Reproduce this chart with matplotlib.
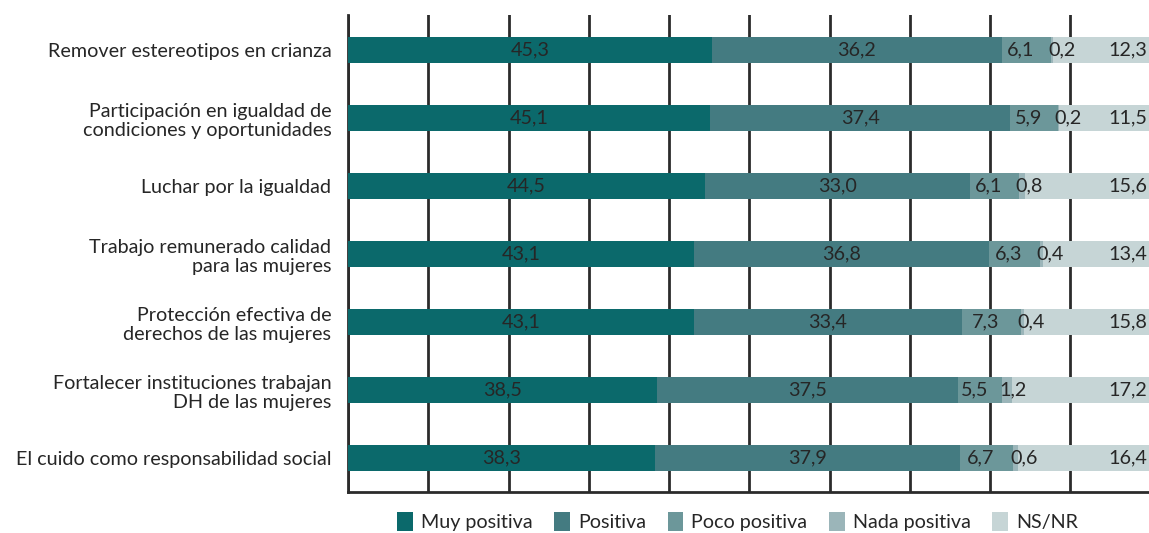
import matplotlib.pyplot as plt

plt.rcParams["font.family"] = ["Lato", "DejaVu Sans"]

categories = [
    "Remover estereotipos en crianza",
    "Participación en igualdad de\ncondiciones y oportunidades",
    "Luchar por la igualdad",
    "Trabajo remunerado calidad\npara las mujeres",
    "Protección efectiva de\nderechos de las mujeres",
    "Fortalecer instituciones trabajan\nDH de las mujeres",
    "El cuido como responsabilidad social",
]
series_names = ["Muy positiva", "Positiva", "Poco positiva", "Nada positiva", "NS/NR"]
muy_positiva = [45.3, 45.1, 44.5, 43.1, 43.1, 38.5, 38.3]
positiva = [36.2, 37.4, 33.0, 36.8, 33.4, 37.5, 37.9]
poco_positiva = [6.1, 5.9, 6.1, 6.3, 7.3, 5.5, 6.7]
nada_positiva = [0.2, 0.2, 0.8, 0.4, 0.4, 1.2, 0.6]
ns_nr = [12.3, 11.5, 15.6, 13.4, 15.8, 17.2, 16.4]

colors = ["#0b696b", "#447b81", "#6c979a", "#9bb5b9", "#c6d5d6"]
txt = "#262626"
fs = 14.2

fig = plt.figure(figsize=(11.49, 5.33), dpi=100)
ax = fig.add_axes([0.3029, 0.0769, 0.6985, 0.895])

series = [muy_positiva, positiva, poco_positiva, nada_positiva, ns_nr]
y = list(range(len(categories)))
left = [0.0] * len(categories)
for vals, name, col in zip(series, series_names, colors):
    ax.barh(y, vals, left=left, height=0.38, color=col, label=name, zorder=3)
    for i, v in enumerate(vals):
        lab = f"{v:.1f}".replace(".", ",")
        if name in ("Muy positiva", "Positiva"):
            ax.text(left[i] + v / 2, i, lab, ha="center", va="center", fontsize=fs, color=txt, zorder=4)
        elif name == "Poco positiva":
            ax.text(left[i] + v / 2 - 0.7, i, lab, ha="center", va="center", fontsize=fs, color=txt, zorder=4)
        elif name == "Nada positiva":
            ax.text(left[i] + 1.3, i, lab, ha="center", va="center", fontsize=fs, color=txt, zorder=4)
        else:
            ax.text(99.6, i, lab, ha="right", va="center", fontsize=fs, color=txt, zorder=4)
    left = [l + v for l, v in zip(left, vals)]

ax.set_xlim(0, 100)
ax.set_ylim(6.5, -0.515)
ax.set_yticks(y)
ax.set_yticklabels(categories, fontsize=fs, color=txt)
ax.tick_params(axis="y", length=0, pad=12)
ax.set_xticks(range(0, 101, 10))
ax.set_xticklabels([])
ax.tick_params(axis="x", length=0)
ax.grid(axis="x", color="#2b2b2b", linewidth=2, zorder=1)
for s in ["top", "right"]:
    ax.spines[s].set_visible(False)
for s in ["left", "bottom"]:
    ax.spines[s].set_color("#2b2b2b")
    ax.spines[s].set_linewidth(2)

fig.legend(loc="center", bbox_to_anchor=(0.642, 0.022), ncol=5, frameon=False,
           fontsize=fs, handlelength=0.8, handleheight=1.1, columnspacing=1.1,
           handletextpad=0.4, labelcolor=txt)

fig.savefig("out.png", dpi=100)
